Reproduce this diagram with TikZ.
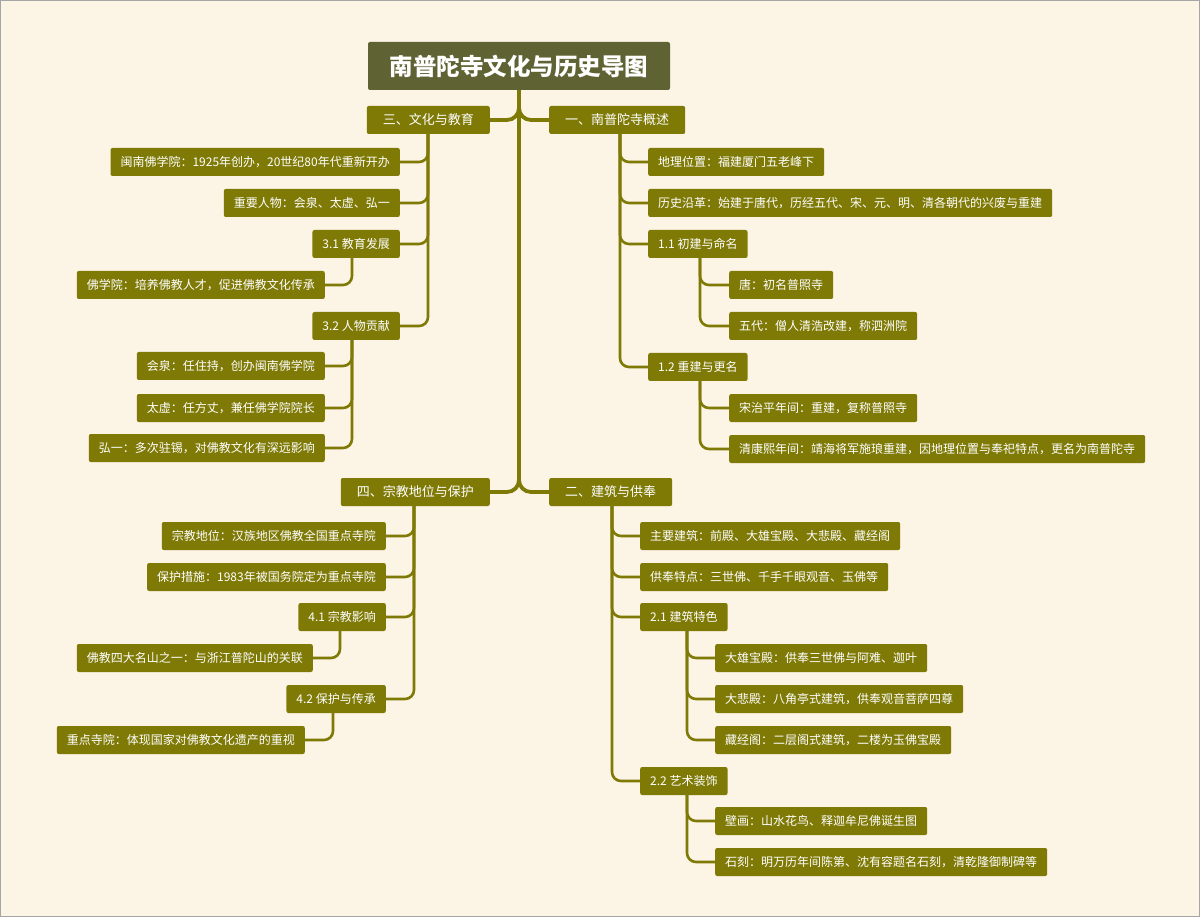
\documentclass[tikz,border=0pt]{standalone}
\usepackage{fontspec}
\setmainfont{Noto Sans CJK SC}
\definecolor{bg}{HTML}{FCF4E4}
\definecolor{ol}{HTML}{7F7A06}
\definecolor{tt}{HTML}{5F6333}
\tikzset{
 box/.style={fill=ol,text=white,rounded corners=2pt,minimum height=28pt,inner xsep=10pt,font=\fontsize{12}{14}\selectfont},
 lone/.style={box,minimum height=28pt,inner xsep=16pt,font=\fontsize{13}{15}\selectfont},
 conn/.style={draw=ol,line width=2.6pt,rounded corners=9pt},
 trunk/.style={draw=ol,line width=3.8pt,rounded corners=12pt}
}
\begin{document}
\begin{tikzpicture}[x=1pt,y=-1pt]
\fill[bg] (0,0) rectangle (1200,917);
\useasboundingbox (0,0) rectangle (1200,917);
\draw[gray!70,line width=1pt] (0.5,0.5) rectangle (1199.5,916.5);
% title
\node[fill=tt,text=white,rounded corners=2pt,minimum width=302pt,minimum height=48pt,font=\fontsize{23.5}{27}\selectfont\bfseries] (T) at (519,66) {南普陀寺文化与历史导图};
% level 1
\node[lone,anchor=east] (A) at (490,120) {三、文化与教育};
\node[lone,anchor=west] (B) at (549,120) {一、南普陀寺概述};
\node[lone,anchor=east] (C) at (490,492) {四、宗教地位与保护};
\node[lone,anchor=west] (D) at (549,492) {二、建筑与供奉};
\draw[trunk] (T.south) |- (A.east);
\draw[trunk] (T.south) |- (B.west);
\draw[trunk] (T.south) |- (C.east);
\draw[trunk] (T.south) |- (D.west);
% branch 一
\coordinate (vB) at (620,0);
\node[box,anchor=west] (B1) at (648,162) {地理位置：福建厦门五老峰下};
\node[box,anchor=west] (B2) at (648,203) {历史沿革：始建于唐代，历经五代、宋、元、明、清各朝代的兴废与重建};
\node[box,anchor=west] (B3) at (648,244) {1.1 初建与命名};
\node[box,anchor=west] (B4) at (648,367) {1.2 重建与更名};
\foreach \c in {B1,B2,B3,B4} \draw[conn] (B.south -| vB) |- (\c.west);
\coordinate (v11) at (700,0);
\node[box,anchor=west] (B31) at (729,285) {唐：初名普照寺};
\node[box,anchor=west] (B32) at (729,326) {五代：僧人清浩改建，称泗洲院};
\foreach \c in {B31,B32} \draw[conn] (B3.south -| v11) |- (\c.west);
\node[box,anchor=west] (B41) at (729,408) {宋治平年间：重建，复称普照寺};
\node[box,anchor=west] (B42) at (729,449) {清康熙年间：靖海将军施琅重建，因地理位置与奉祀特点，更名为南普陀寺};
\foreach \c in {B41,B42} \draw[conn] (B4.south -| v11) |- (\c.west);
% branch 二
\coordinate (vD) at (612,0);
\node[box,anchor=west] (D1) at (640,536) {主要建筑：前殿、大雄宝殿、大悲殿、藏经阁};
\node[box,anchor=west] (D2) at (640,577) {供奉特点：三世佛、千手千眼观音、玉佛等};
\node[box,anchor=west] (D3) at (640,617) {2.1 建筑特色};
\node[box,anchor=west] (D4) at (640,781) {2.2 艺术装饰};
\foreach \c in {D1,D2,D3,D4} \draw[conn] (D.south -| vD) |- (\c.west);
\coordinate (v21) at (687,0);
\node[box,anchor=west] (D31) at (715,658) {大雄宝殿：供奉三世佛与阿难、迦叶};
\node[box,anchor=west] (D32) at (715,699) {大悲殿：八角亭式建筑，供奉观音菩萨四尊};
\node[box,anchor=west] (D33) at (715,740) {藏经阁：二层阁式建筑，二楼为玉佛宝殿};
\foreach \c in {D31,D32,D33} \draw[conn] (D3.south -| v21) |- (\c.west);
\node[box,anchor=west] (D41) at (715,821) {壁画：山水花鸟、释迦牟尼佛诞生图};
\node[box,anchor=west] (D42) at (715,862) {石刻：明万历年间陈第、沈有容题名石刻，清乾隆御制碑等};
\foreach \c in {D41,D42} \draw[conn] (D4.south -| v21) |- (\c.west);
% branch 三
\coordinate (vA) at (428,0);
\node[box,anchor=east] (A1) at (400,162) {闽南佛学院：1925年创办，20世纪80年代重新开办};
\node[box,anchor=east] (A2) at (400,203) {重要人物：会泉、太虚、弘一};
\node[box,anchor=east] (A3) at (400,244) {3.1 教育发展};
\node[box,anchor=east] (A4) at (400,326) {3.2 人物贡献};
\foreach \c in {A1,A2,A3,A4} \draw[conn] (A.south -| vA) |- (\c.east);
\coordinate (v31) at (352,0);
\node[box,anchor=east] (A31) at (325,285) {佛学院：培养佛教人才，促进佛教文化传承};
\draw[conn] (A3.south -| v31) |- (A31.east);
\node[box,anchor=east] (A41) at (325,366) {会泉：任住持，创办闽南佛学院};
\node[box,anchor=east] (A42) at (325,408) {太虚：任方丈，兼任佛学院院长};
\node[box,anchor=east] (A43) at (325,448) {弘一：多次驻锡，对佛教文化有深远影响};
\foreach \c in {A41,A42,A43} \draw[conn] (A4.south -| v31) |- (\c.east);
% branch 四
\coordinate (vC) at (414,0);
\node[box,anchor=east] (C1) at (386,536) {宗教地位：汉族地区佛教全国重点寺院};
\node[box,anchor=east] (C2) at (386,577) {保护措施：1983年被国务院定为重点寺院};
\node[box,anchor=east] (C3) at (386,617) {4.1 宗教影响};
\node[box,anchor=east] (C4) at (386,699) {4.2 保护与传承};
\foreach \c in {C1,C2,C3,C4} \draw[conn] (C.south -| vC) |- (\c.east);
\coordinate (v41) at (340,0);
\node[box,anchor=east] (C31) at (313,658) {佛教四大名山之一：与浙江普陀山的关联};
\draw[conn] (C3.south -| v41) |- (C31.east);
\coordinate (v42) at (333,0);
\node[box,anchor=east] (C41) at (305,740) {重点寺院：体现国家对佛教文化遗产的重视};
\draw[conn] (C4.south -| v42) |- (C41.east);
\end{tikzpicture}
\end{document}
